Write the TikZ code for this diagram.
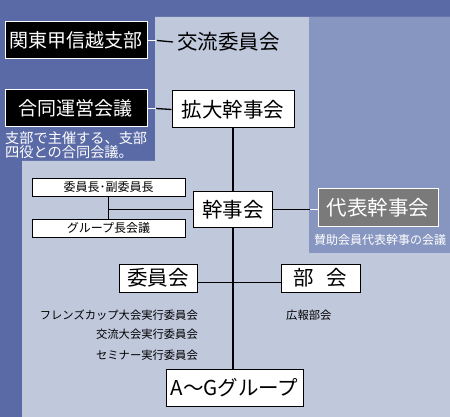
\documentclass[tikz,border=0pt]{standalone}
\usepackage{fontspec}
\setmainfont{Noto Sans CJK JP}
\usetikzlibrary{positioning}
\definecolor{darkbg}{HTML}{5A6AA6}
\definecolor{lightbg}{HTML}{C0C8DC}
\definecolor{midbg}{HTML}{8796C0}
\definecolor{repgray}{HTML}{7A7A7A}

\begin{document}
\begin{tikzpicture}[x=1pt, y=-1pt, every node/.style={inner sep=0pt},
    bigfont/.style={font=\fontsize{20.5}{20.5}\selectfont},
    blackbox/.style={font=\fontsize{19}{19}\selectfont, draw=white, fill=black, text=white, line width=1pt, minimum width=142pt, minimum height=37pt},
    whitebox/.style={bigfont, draw=black, fill=white, line width=1pt, minimum height=37pt},
    smallbox/.style={draw=black, fill=white, line width=0.8pt, minimum width=153pt, minimum height=18pt, font=\fontsize{12}{12}\selectfont},
    subtext/.style={font=\fontsize{11.3}{11.3}\selectfont},
    link/.style={line width=1.3pt}]
    % Background panels
    \fill[darkbg] (0,0) rectangle (450,417);
    \fill[lightbg] (155,17) -- (450,17) -- (450,417) -- (22,417) -- (22,161) -- (155,161) -- cycle;
    \fill[midbg] (309,17) rectangle (450,253);
    \coordinate (edgeL) at (156,0);
    \coordinate (edgeR) at (310,0);

    % Branch side
    \node[blackbox] (kanto) at (76,40.5) {関東甲信越支部};
    \node[bigfont, anchor=west] (kouryu) at (177,42) {交流委員会};
    \node[blackbox] (goudou) at (76,108.5) {合同運営会議};
    \node[anchor=north west, align=left, text=white, font=\fontsize{14.2}{14}\selectfont] (goudounote) at (5,131) {支部で主催する、支部\\四役との合同会議。};

    % Main column
    \node[whitebox, minimum width=122pt] (kakudai) at (233,109.5) {拡大幹事会};
    \node[whitebox, minimum width=79pt, minimum height=35pt] (kanji) at (233,209.5) {幹事会};
    \node[whitebox, minimum width=137pt] (ag) at (234.5,387.5) {A～Gグループ};

    % Officers
    \node[smallbox] (fuku) at (108.5,187) {委員長･副委員長};
    \node[smallbox] (groupcho) at (108.5,228) {グループ長会議};

    % Representatives
    \node[bigfont, draw=white, fill=repgray, text=white, line width=1pt, minimum width=120pt, minimum height=37pt] (daihyo) at (378,207.5) {代表幹事会};
    \node[text=white, font=\fontsize{12}{12}\selectfont] (daihyonote) at (380,240) {賛助会員代表幹事の会議};

    % Committees and sections
    \node[whitebox, minimum width=78pt, minimum height=28pt] (iinkai) at (158,278) {委員会};
    \node[whitebox, minimum width=79pt, minimum height=28pt] (bukai) at (320.5,278) {部\hspace{0.6em}会};
    \node[subtext, anchor=east] (friends) at (198,315) {フレンズカップ大会実行委員会};
    \node[subtext, anchor=east] (kouryutaikai) at (198,334) {交流大会実行委員会};
    \node[subtext, anchor=east] (seminar) at (198,355) {セミナー実行委員会};
    \node[subtext, anchor=west] (kouhou) at (286,315) {広報部会};

    % Connectors
    \draw[link, white] (kanto.east) -- (kanto.east -| edgeL);
    \draw[link] (kanto.east -| edgeL) ++(1,0) -- ([xshift=-4pt]kouryu.west);
    \draw[link, white] (goudou.east) -- (goudou.east -| edgeL);
    \draw[link] (goudou.east -| edgeL) -- (kakudai.west);
    \draw[link] (kakudai.south) -- (kanji.north);
    \draw[link] (kanji.south) -- (ag.north -| kanji.south);
    \draw[link] (fuku.south) -- (groupcho.north);
    \draw[link] (fuku.south |- kanji.west) -- (kanji.west);
    \draw[link] (kanji.east) -- (kanji.east -| edgeR);
    \draw[link, white] (kanji.east -| edgeR) -- (daihyo.west |- kanji.east);
    \draw[link] ([yshift=-4.5pt]iinkai.east) -- ([yshift=-4.5pt]bukai.west);
\end{tikzpicture}
\end{document}
